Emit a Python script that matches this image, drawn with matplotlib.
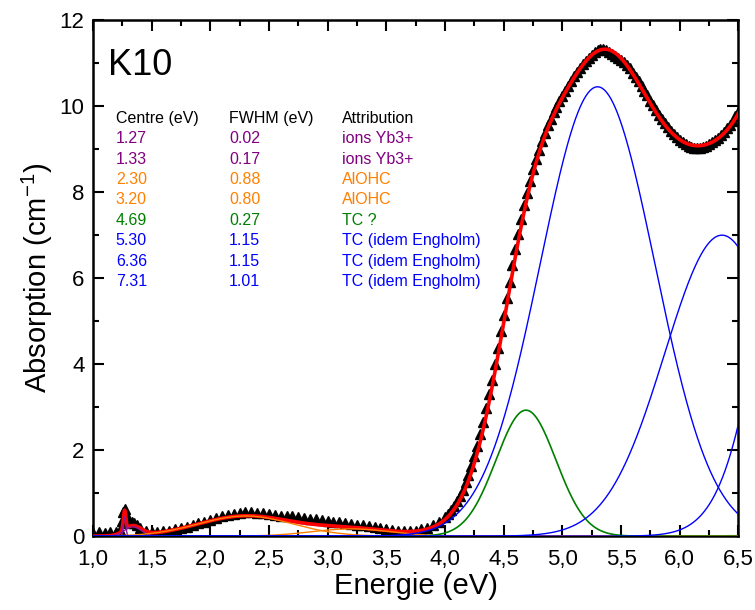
import numpy as np
import matplotlib
matplotlib.use("Agg")
import matplotlib.pyplot as plt
from matplotlib.ticker import MultipleLocator, FuncFormatter

plt.rcParams['font.family'] = ['Liberation Sans', 'DejaVu Sans']
plt.rcParams['mathtext.default'] = 'regular'

# measured absorption (black triangles)
low_energy = [1.00, 1.05, 1.10, 1.15, 1.20, 1.23, 1.25, 1.26, 1.27, 1.28, 1.29, 1.31,
              1.33, 1.35, 1.38, 1.40, 1.45, 1.50, 1.55, 1.60, 1.65, 1.70, 1.75, 1.80,
              1.85, 1.90, 1.95, 2.00, 2.05, 2.10, 2.15, 2.20, 2.25, 2.30, 2.35, 2.40,
              2.45, 2.50, 2.55, 2.60, 2.65, 2.70, 2.75, 2.80, 2.85, 2.90, 2.95, 3.00,
              3.05, 3.10, 3.15, 3.20, 3.25, 3.30, 3.35, 3.40, 3.45, 3.50, 3.55, 3.60,
              3.65, 3.70, 3.75, 3.80, 3.85, 3.90, 3.95]
low_abs = [0.08, 0.09, 0.08, 0.09, 0.10, 0.15, 0.36, 0.56, 0.64, 0.52, 0.36, 0.31,
           0.34, 0.31, 0.25, 0.19, 0.12, 0.10, 0.10, 0.11, 0.13, 0.16, 0.19, 0.22,
           0.26, 0.30, 0.34, 0.38, 0.42, 0.46, 0.49, 0.52, 0.54, 0.56, 0.56, 0.55,
           0.54, 0.52, 0.50, 0.48, 0.47, 0.47, 0.45, 0.43, 0.41, 0.39, 0.37, 0.35,
           0.33, 0.32, 0.30, 0.29, 0.27, 0.25, 0.23, 0.21, 0.19, 0.17, 0.15, 0.13,
           0.12, 0.12, 0.12, 0.16, 0.20, 0.25, 0.33]

# 4.0 -> 6.5 eV, step 0.025
high_abs = [0.45, 0.52, 0.60, 0.70, 0.81, 0.94, 1.08, 1.25, 1.43, 1.63,
            1.86, 2.10, 2.37, 2.66, 2.97, 3.30, 3.64, 4.00, 4.37, 4.76,
            5.14, 5.53, 5.91, 6.30, 6.67, 7.03, 7.37, 7.69, 7.99, 8.27,
            8.53, 8.77, 8.99, 9.20, 9.38, 9.55, 9.71, 9.86, 9.99, 10.12,
            10.24, 10.36, 10.47, 10.59, 10.69, 10.79, 10.88, 10.97, 11.05, 11.12,
            11.19, 11.25, 11.30, 11.32, 11.32, 11.30, 11.27, 11.22, 11.17, 11.12,
            11.08, 11.02, 10.95, 10.88, 10.78, 10.68, 10.58, 10.47, 10.36, 10.25,
            10.13, 10.02, 9.91, 9.80, 9.71, 9.61, 9.52, 9.43, 9.35, 9.28,
            9.22, 9.16, 9.12, 9.08, 9.05, 9.03, 9.03, 9.03, 9.05, 9.08,
            9.11, 9.16, 9.22, 9.27, 9.34, 9.41, 9.49, 9.57, 9.66, 9.76,
            9.86]
high_energy = np.linspace(4.0, 6.5, len(high_abs))

# gaussian components as drawn (centre, FWHM, height)
comp_centre = [1.27, 1.34, 2.30, 3.20, 4.69, 5.30, 6.36, 7.31]
comp_fwhm = [0.025, 0.17, 0.95, 0.80, 0.60, 1.15, 1.15, 1.01]
comp_height = [0.45, 0.22, 0.47, 0.17, 2.93, 10.45, 7.00, 15.5]
comp_color = ['#8B1A9B', '#8B1A9B', '#FF8000', '#FF8000', '#008000',
              '#0000FF', '#0000FF', '#0000FF']

# table text
table_centre = ['1.27', '1.33', '2.30', '3.20', '4.69', '5.30', '6.36', '7.31']
table_fwhm = ['0.02', '0.17', '0.88', '0.80', '0.27', '1.15', '1.15', '1.01']
table_attr = ['ions Yb3+', 'ions Yb3+', 'AlOHC', 'AlOHC', 'TC ?',
              'TC (idem Engholm)', 'TC (idem Engholm)', 'TC (idem Engholm)']
table_color = ['#800080', '#800080', '#FF8000', '#FF8000', '#008000',
               '#0000FF', '#0000FF', '#0000FF']


def gauss(e, c, w, h):
    return h * np.exp(-4 * np.log(2) * (e - c) ** 2 / w ** 2)


fig = plt.figure(figsize=(7.55, 6.10), dpi=100)
ax = fig.add_axes([0.123, 0.121, 0.855, 0.846])

e_fine = np.linspace(1.0, 6.5, 2201)
comps = [gauss(e_fine, c, w, h) for c, w, h in zip(comp_centre, comp_fwhm, comp_height)]
fit = np.sum(comps, axis=0)

energy = list(low_energy) + list(high_energy)
absorb = list(low_abs) + list(high_abs)
ax.plot(energy, absorb, linestyle='none', marker='^', color='black',
        markersize=6.8, markeredgewidth=1.0, zorder=2)
ax.plot(e_fine, fit, color='red', lw=2.6, zorder=3)
for y, col in zip(comps, comp_color):
    ax.plot(e_fine, y, color=col, lw=1.0 if col != '#008000' else 1.2, zorder=4)

ax.set_xlim(1.0, 6.5)
ax.set_ylim(0, 12)
ax.xaxis.set_major_locator(MultipleLocator(0.5))
ax.xaxis.set_minor_locator(MultipleLocator(0.25))
ax.yaxis.set_major_locator(MultipleLocator(2))
ax.yaxis.set_minor_locator(MultipleLocator(1))
ax.xaxis.set_major_formatter(FuncFormatter(lambda v, p: f"{v:.1f}".replace('.', ',')))
ax.tick_params(which='both', direction='in', top=True, right=True, width=1.5,
               labelsize=16)
ax.tick_params(axis='x', pad=9)
ax.tick_params(axis='y', pad=6)
ax.tick_params(which='major', length=8)
ax.tick_params(which='minor', length=4)
for s in ax.spines.values():
    s.set_linewidth(1.8)

ax.set_xlabel('Energie (eV)', fontsize=21, labelpad=2)
ax.set_ylabel('Absorption (cm$^{-1}$)', fontsize=21, labelpad=3)

ax.text(1.13, 10.72, 'K10', fontsize=26, va='baseline', ha='left')

col_x = [1.196, 2.16, 3.125]
y0 = 9.61
dy = 0.474
for x, head in zip(col_x, ['Centre (eV)', 'FWHM (eV)', 'Attribution']):
    ax.text(x, y0, head, fontsize=11.5, va='baseline', ha='left')
for i in range(len(table_centre)):
    yy = y0 - (i + 1) * dy
    for x, txt in zip(col_x, [table_centre[i], table_fwhm[i], table_attr[i]]):
        ax.text(x, yy, txt, fontsize=11.5, va='baseline', ha='left', color=table_color[i])

fig.savefig('out.png', dpi=100)
